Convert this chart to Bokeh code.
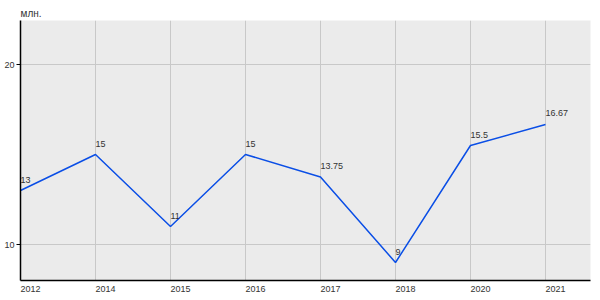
from bokeh.plotting import figure
from bokeh.models import ColumnDataSource, FixedTicker, Range1d, LinearAxis
from bokeh.core.properties import value
from bokeh.embed import file_html
from bokeh.resources import INLINE

years = ["2012", "2014", "2015", "2016", "2017", "2018", "2020", "2021"]
values = [13, 15, 11, 15, 13.75, 9, 15.5, 16.67]
value_labels = ["13", "15", "11", "15", "13.75", "9", "15.5", "16.67"]
y_ticks = [10, 20]
y_unit = "млн."

FONT = "Liberation Sans"
TXT = "#333333"

xs = list(range(len(years)))
src = ColumnDataSource(dict(x=xs, y=values, lab=value_labels))

X0, X1 = 0, 7.6
Y0, Y1 = 8, 8 + 260 / 18
XSH = 10 / 75   # shift so that centred labels start at the category line

p = figure(width=600, height=300, output_backend="svg", toolbar_location=None,
           x_range=Range1d(X0, X1), y_range=Range1d(Y0, Y1),
           x_axis_location=None, y_axis_location=None,
           min_border_left=20, min_border_right=10, min_border_top=20, min_border_bottom=20)
p.background_fill_color = "#ebebeb"
p.border_fill_color = "white"
p.outline_line_color = None

p.title.text = y_unit
p.title.align = "left"
p.title.text_font = FONT
p.title.text_font_size = "10px"
p.title.text_font_style = "normal"
p.title.text_color = TXT
p.title.offset = 0
p.title.standoff = 3

p.extra_x_ranges = {"lab": Range1d(X0 - XSH, X1 - XSH)}

# left axis: line, tick marks and labels (baseline on the tick)
yax = LinearAxis(ticker=FixedTicker(ticks=y_ticks),
                 major_tick_out=4, major_tick_in=0, minor_tick_line_color=None,
                 axis_line_color="black", axis_line_width=1.5, major_tick_line_color="black",
                 major_label_standoff=2,
                 major_label_text_font=FONT, major_label_text_font_size="9px",
                 major_label_text_color=TXT, major_label_text_baseline="alphabetic")
p.add_layout(yax, "left")

# bottom axis: line + labels
xax = LinearAxis(x_range_name="lab", ticker=FixedTicker(ticks=xs),
                 major_label_overrides={i: y for i, y in zip(xs, years)},
                 major_tick_out=0, major_tick_in=0, minor_tick_line_color=None,
                 axis_line_color="black", axis_line_width=1.5, major_tick_line_color=None,
                 major_label_standoff=5,
                 major_label_text_font=FONT, major_label_text_font_size="9px",
                 major_label_text_color=TXT)
p.add_layout(xax, "below")

p.xgrid.ticker = FixedTicker(ticks=xs)
p.ygrid.ticker = FixedTicker(ticks=y_ticks)
p.xgrid.grid_line_color = "#c8c8c8"
p.ygrid.grid_line_color = "#c8c8c8"

p.line("x", "y", source=src, line_color="#0a4ee6", line_width=1.5)
p.text("x", "y", text="lab", source=src, text_font=value(FONT), text_font_size="9px",
       text_color=TXT, text_align="left", text_baseline="alphabetic", y_offset=-11)

open("out.html", "w").write(file_html(p, INLINE))
